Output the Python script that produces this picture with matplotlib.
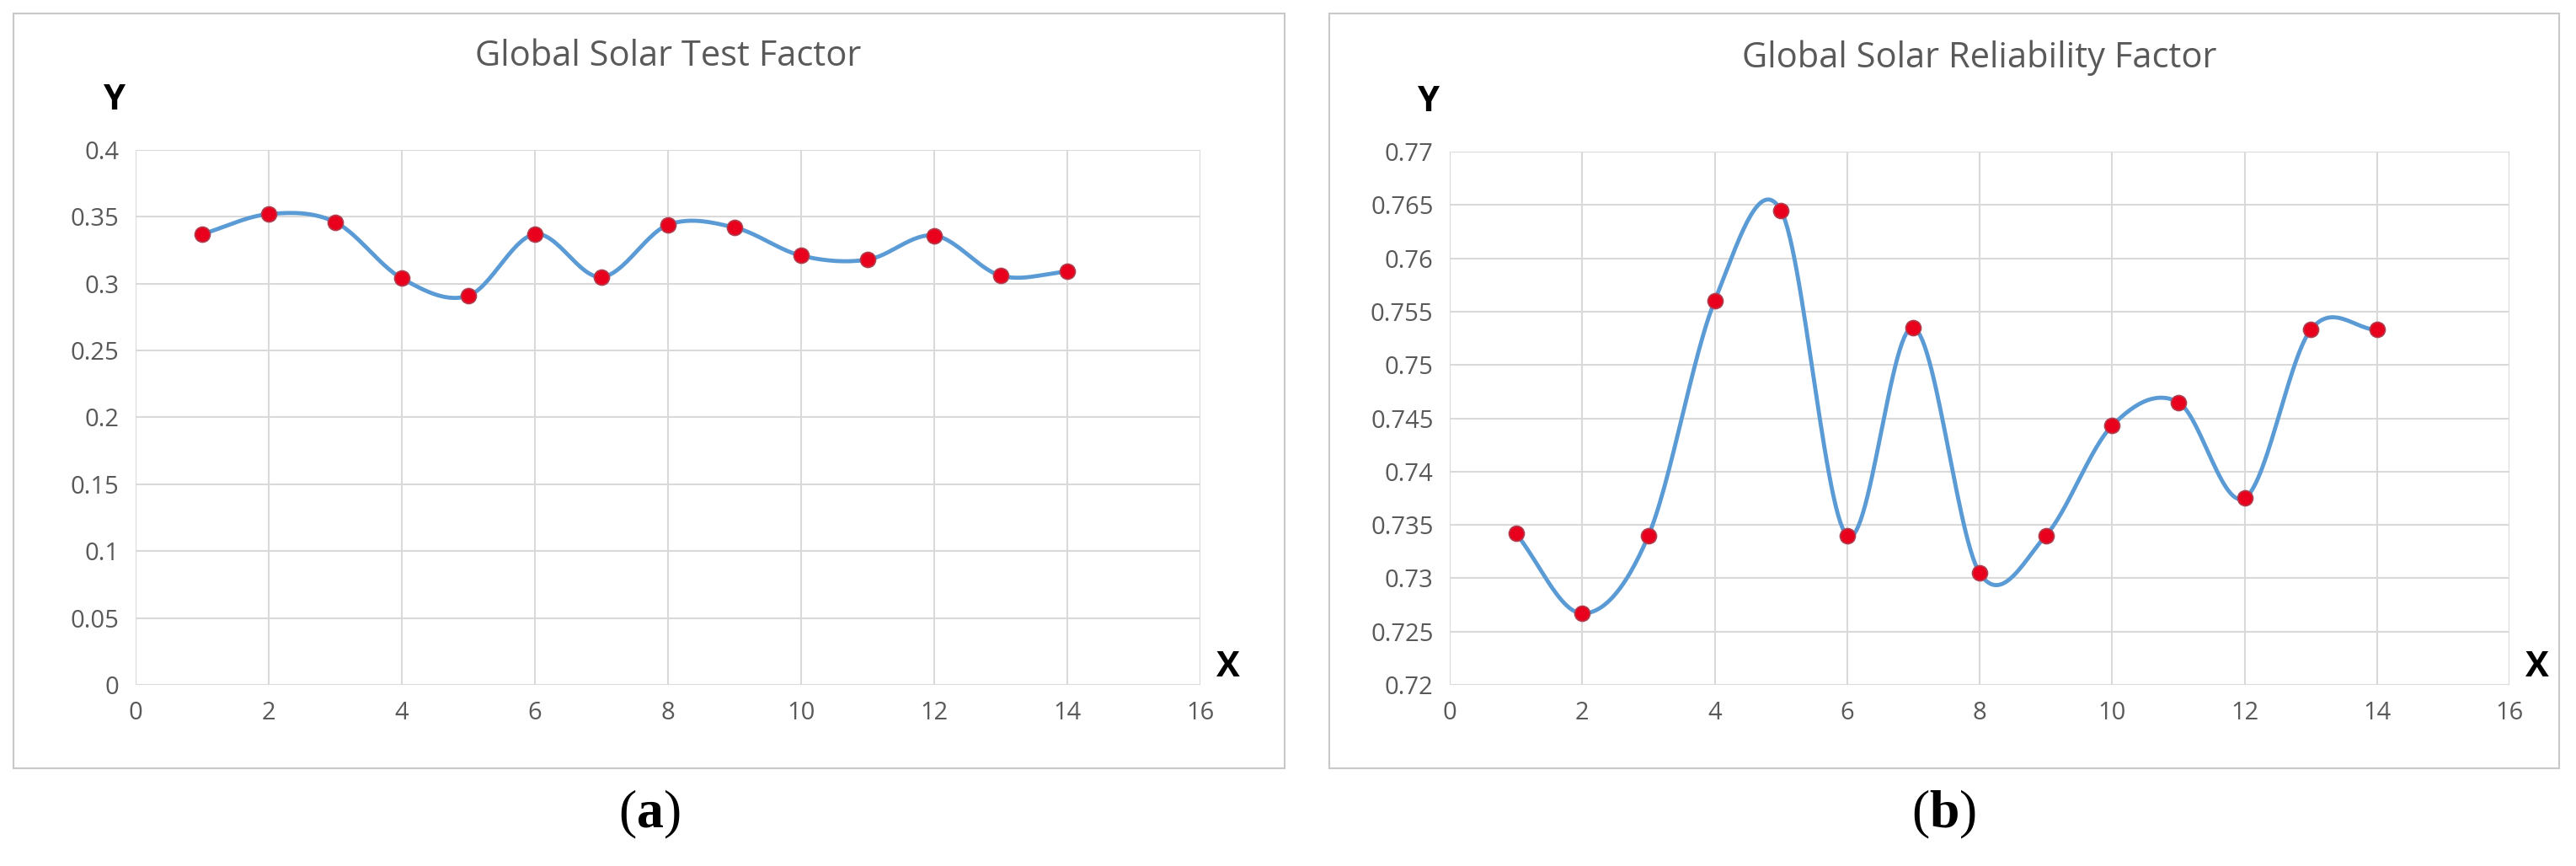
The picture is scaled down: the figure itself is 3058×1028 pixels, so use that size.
import numpy as np
import matplotlib
matplotlib.use("Agg")
import matplotlib.pyplot as plt
from matplotlib.patches import Rectangle

x_vals = list(range(1, 15))
test_factor = [0.337, 0.352, 0.346, 0.304, 0.291, 0.337, 0.305, 0.344, 0.342, 0.321, 0.318, 0.336, 0.306, 0.309]
reliability_factor = [0.7342, 0.7267, 0.7340, 0.7560, 0.7645, 0.7340, 0.7535, 0.7305, 0.7340, 0.7443, 0.7465, 0.7375, 0.7533, 0.7533]
titles = ["Global Solar Test Factor", "Global Solar Reliability Factor"]
panel_labels = ["a", "b"]

def smooth(x, y, n=30):
    x = np.asarray(x, float); y = np.asarray(y, float)
    px = np.concatenate([[2*x[0]-x[1]], x, [2*x[-1]-x[-2]]])
    py = np.concatenate([[2*y[0]-y[1]], y, [2*y[-1]-y[-2]]])
    xs, ys = [], []
    for i in range(1, len(px)-2):
        p0x, p1x, p2x, p3x = px[i-1:i+3]
        p0y, p1y, p2y, p3y = py[i-1:i+3]
        c1x, c1y = p1x + (p2x-p0x)/6, p1y + (p2y-p0y)/6
        c2x, c2y = p2x - (p3x-p1x)/6, p2y - (p3y-p1y)/6
        t = np.linspace(0, 1, n)
        b = [(1-t)**3, 3*(1-t)**2*t, 3*(1-t)*t**2, t**3]
        xs.append(b[0]*p1x + b[1]*c1x + b[2]*c2x + b[3]*p2x)
        ys.append(b[0]*p1y + b[1]*c1y + b[2]*c2y + b[3]*p2y)
    return np.concatenate(xs), np.concatenate(ys)

W, H = 3058, 1028
plt.rcParams['font.family'] = ['Open Sans', 'DejaVu Sans']
plt.rcParams['mathtext.fontset'] = 'custom'
plt.rcParams['mathtext.rm'] = 'Liberation Serif'
plt.rcParams['mathtext.bf'] = 'Liberation Serif:bold'
fig = plt.figure(figsize=(W/100, H/100), dpi=100)

def fx(px): return px / W
def fy(py): return 1 - py / H

configs = [
    dict(box=(16, 16, 1525, 912), ax=(161, 178, 1425, 813), y=test_factor,
         ylim=(0, 0.4), yt=np.arange(0, 0.401, 0.05), fmt=lambda v: f"{v:g}"),
    dict(box=(1578, 16, 3038, 912), ax=(1721, 180, 2979, 813), y=reliability_factor,
         ylim=(0.72, 0.77), yt=np.arange(0.72, 0.7701, 0.005), fmt=lambda v: f"{round(v,3):g}"),
]

for i, c in enumerate(configs):
    bx0, by0, bx1, by1 = c['box']
    fig.patches.append(Rectangle((fx(bx0), fy(by1)), fx(bx1-bx0), (by1-by0)/H,
                                 transform=fig.transFigure, fill=False, edgecolor='#c8c8c8', lw=1.5))
    x0, y0, x1, y1 = c['ax']
    ax = fig.add_axes([fx(x0), fy(y1), fx(x1-x0), (y1-y0)/H])
    sx, sy = smooth(x_vals, c['y'])
    ax.plot(sx, sy, color='#5b9bd5', lw=3.5, zorder=2)
    ax.plot(x_vals, c['y'], 'o', color='#e8001c', ms=13, mec='#b04050', mew=1.2, zorder=3)
    ax.set_xlim(0, 16); ax.set_ylim(*c['ylim'])
    ax.set_xticks(range(0, 17, 2))
    ax.set_yticks(c['yt'])
    ax.set_yticklabels([c['fmt'](v) for v in c['yt']])
    ax.grid(True, color='#d9d9d9', lw=1.5)
    ax.set_axisbelow(True)
    for s in ax.spines.values():
        s.set_visible(False)
    ax.tick_params(length=0, labelsize=21, colors='#595959', pad=14)
    ax.set_title(titles[i], fontsize=30, color='#595959', pad=72)
    ax.text(-0.02, 1.06, "Y", transform=ax.transAxes, fontsize=30, fontweight='bold', ha='center', va='bottom')
    ax.text(1.015, 0.0, "X", transform=ax.transAxes, fontsize=30, fontweight='bold', ha='left', va='bottom')
    fig.text(fx((bx0+bx1)/2), fy(966), rf"$\mathrm{{(}}\mathbf{{{panel_labels[i]}}}\mathrm{{)}}$",
             fontsize=46, ha='center', va='center')

fig.savefig("out.png", dpi=100, facecolor='white')
